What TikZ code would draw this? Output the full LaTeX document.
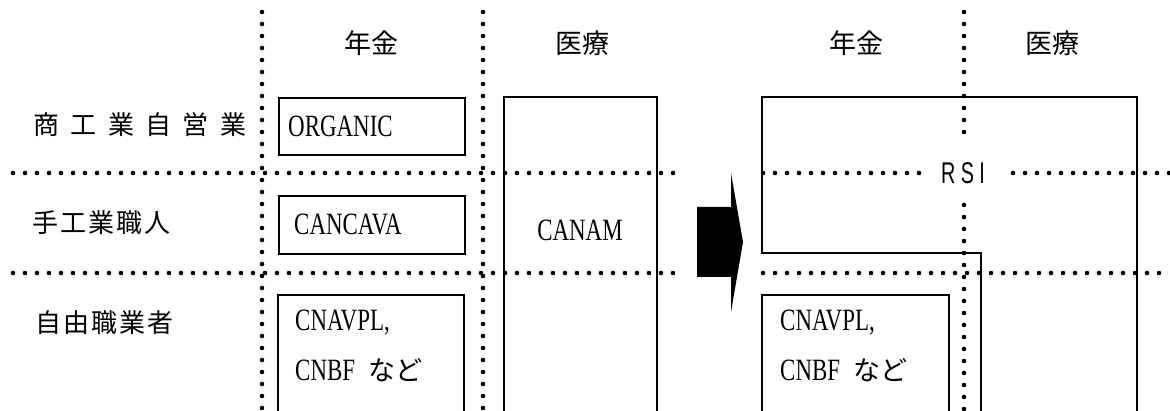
\documentclass[tikz,border=0pt]{standalone}
\usepackage{fontspec}
\usepackage{graphicx}
\setmainfont{Liberation Serif}
\newfontfamily\cjk{Noto Sans CJK JP}
\newfontfamily\cjksp{Noto Sans CJK JP}[LetterSpace=44]
\newfontfamily\cjkn{Noto Sans CJK JP}[LetterSpace=8]
\newfontfamily\lat{Liberation Serif}[FakeStretch=0.74]
\newfontfamily\rsifont{Liberation Sans}
\begin{document}
\begin{tikzpicture}[x=1pt,y=-1pt,
  dots/.style={line width=4.6pt, dash pattern=on 0pt off 12pt, line cap=round},
  frame/.style={line width=1.8pt},
  head/.style={font=\cjk\fontsize{27}{30}\selectfont, inner sep=0pt},
  rowlabel/.style={font=\cjkn\fontsize{26}{30}\selectfont, inner sep=0pt, anchor=west},
  code/.style={font=\lat\fontsize{31}{34}\selectfont, inner sep=0pt, anchor=west},
]
\useasboundingbox (0,0) rectangle (1170,411);

% column headers
\node[head] (h1) at (371,43) {年金};
\node[head] (h2) at (582,43) {医療};
\node[head] (h3) at (856,43) {年金};
\node[head] (h4) at (1052,43) {医療};

% row labels
\node[rowlabel, font=\cjksp\fontsize{26}{30}\selectfont] (r1) at (33,125) {商工業自営業};
\node[rowlabel] (r2) at (32,223) {手工業職人};
\node[rowlabel] (r3) at (35,323) {自由職業者};

% left boxes
\node[draw, frame, minimum width=186pt, minimum height=57pt, anchor=north west, inner sep=0pt] (org) at (278,97) {};
\node[code] (orgt) at ([xshift=10pt]org.west) {ORGANIC};
\node[draw, frame, minimum width=186pt, minimum height=58pt, anchor=north west, inner sep=0pt] (can) at (278,195) {};
\node[code] (cant) at ([xshift=16pt]can.west) {CANCAVA};
\draw[frame] (278,413) -- (278,295) -- (464,295) -- (464,413);
\node[code] (cnl1) at (295,323) {CNAVPL,};
\node[code] (cnl2) at (295,370) {CNBF\hspace{13pt}{\cjk\fontsize{27}{30}\selectfont など}};

\draw[frame] (504,413) -- (504,97) -- (657,97) -- (657,413);
\node[code, anchor=center] (canam) at (580,230) {CANAM};

% arrow
\fill (697,207) -- (731,207) -- (731,173) -- (743,242) -- (731,312) -- (731,277) -- (697,277) -- cycle;

% right side
\draw[frame] (981,413) -- (981,253) -- (762,253) -- (762,97) -- (1137,97) -- (1137,413);
\draw[frame] (762,413) -- (762,295) -- (949,295) -- (949,413);
\node[code] (cnr1) at (780,323) {CNAVPL,};
\node[code] (cnr2) at (780,370) {CNBF\hspace{13pt}{\cjk\fontsize{27}{30}\selectfont など}};
\node[font=\rsifont\fontsize{30}{34}\selectfont, inner sep=0pt] (rsi) at (963,173) {\scalebox{0.66}[1]{R S I}};

% dotted grid
\draw[dots] (262,12) -- (262,411);
\draw[dots] (483,12) -- (483,411);
\draw[dots] (964,12) -- (964,134);
\draw[dots] (964,205) -- (964,411);
\draw[dots] (13,173) -- (676,173);
\draw[dots] (763,173) -- (923,173);
\draw[dots] (1013,173) -- (1170,173);
\draw[dots] (13,273) -- (676,273);
\draw[dots] (763,273) -- (1170,273);
\end{tikzpicture}
\end{document}
